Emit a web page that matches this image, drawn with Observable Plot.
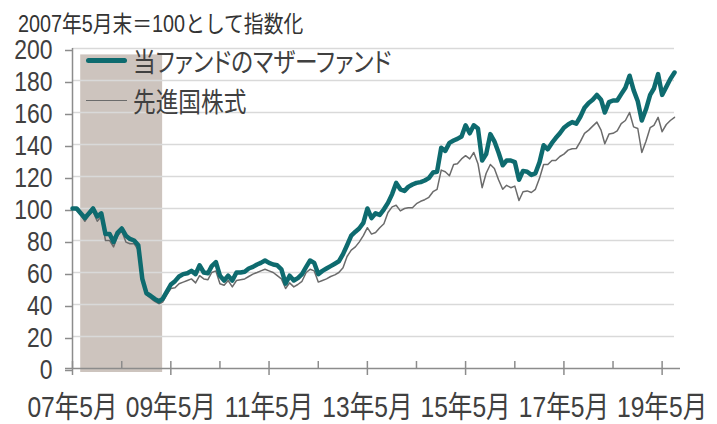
<!DOCTYPE html>
<html><head><meta charset="utf-8">
<script src="https://cdn.jsdelivr.net/npm/d3@7"></script>
<script src="https://cdn.jsdelivr.net/npm/@observablehq/plot@0.6"></script>
<style>
body{margin:0;background:#fff;}
#wrap{position:relative;width:717px;height:424px;overflow:hidden;background:#fff;
  font-family:"Liberation Sans","Noto Sans CJK JP",sans-serif;color:#404040;}
#title{height:36px;position:relative;}
#title span{position:absolute;left:18px;top:13px;font-size:23px;line-height:23px;white-space:nowrap;
  transform:scaleX(0.86);transform-origin:0 0;color:#333;}
.legline{position:absolute;left:86px;width:41px;}
.legtext{position:absolute;left:133px;font-size:27px;line-height:27px;white-space:nowrap;
  transform:scaleX(0.84);transform-origin:0 0;color:#404040;font-feature-settings:"palt";}
</style></head>
<body>
<div id="wrap">
  <div id="title"><span>2007年5月末＝100として指数化</span></div>
  <div id="chart"></div>
  <div class="legline" style="top:57.5px;height:5px;border-radius:2.5px;background:#0e6b6f"></div>
  <div class="legtext" id="leg1" style="top:50px"></div>
  <div class="legline" style="top:99.5px;height:1.5px;background:#6b6b6b"></div>
  <div class="legtext" id="leg2" style="top:90px"></div>
</div>
<script>
// ---- data ----
const seriesNames = ["当ファンドのマザーファンド", "先進国株式"];
const startMonth = "2007-05-01";
const endMonth = "2019-08-01";
// monthly index values, 2007-05 .. 2019-08
const fund = [
100,100,97,94,97,100,95,97,84,84,79,85,
87.5,83,81,80,77,56,47,45.5,43.5,42,43.5,48,
52.5,54.6,57.5,59,59.5,61,59,64.5,60,59.5,64,66.5,
58,55,58,55,60,60,60.5,62.5,63.5,65,66,67.5,
66,65,64.5,62,53,58,55,56.5,59,63.5,67.5,66,
59,61,62.5,64,65.5,67,71.5,77,83,85.5,87.5,91,
100,94,97,96,99.5,103.5,109,116,112,111,113.5,115,
116,116.5,117.5,119,122.5,123,138,136,141,142.5,143.5,145,
152,147,152,150,130,134,146.5,142,135,127,130,130,
129,118,123.5,123,121,122,129,139.5,137,141,144,147,
150.5,152.5,154,153,157.5,163,166,168,171,168,160,166.5,
167.5,167.5,171.5,175.5,183,174,167,155,162,171,175,184,
171,176,181,185
];
const world = [
100,99,96,92,96,98,92,95,80,80,76,83,
86,79,78,78,74,54,46,44,42,40.5,41.5,46,
50,50.5,53,54,55,56,53.5,58,56,55.5,60,61,
53,52,55,51,55,55.5,56,57.5,59,60,61,62,
61,60,58,56,50,53.5,51,52.5,54.5,60,62,61,
54,55,56,57.5,58.5,60,63,70,74,76,79,83,
88,84,85,88,90.5,97.5,101,102,98.5,100,100.5,100.5,
103,104.5,105.5,107,110.5,112,124,123,120.5,127.5,128,131,
133,131,135,128,113,122,127.5,125,118,112,114.5,113,
114,105,110.5,111,110,112,119,127.5,127.5,130,130,132.5,
134,136.5,137.3,137.5,142,147,149,151.5,154,149,140.5,146.5,
147,148.5,153,155,160,151,150,135,142,150.5,152,157,
148,152.5,155,157
];
const shade = [{start: "2007-07-01", end: "2009-03-01", top: 196}];
const yTicks = [0, 20, 40, 60, 80, 100, 120, 140, 160, 180, 200];
const xTickLabels = ["07年5月", "09年5月", "11年5月", "13年5月", "15年5月", "17年5月", "19年5月"];
const xTickYears = [2007, 2009, 2011, 2013, 2015, 2017, 2019];
const minorTickYears = [2008, 2010, 2012, 2014, 2016, 2018];

// ---- build ----
const months = d3.utcMonth.range(new Date(startMonth), d3.utcMonth.offset(new Date(endMonth), 1));
const rows = months.map((d, i) => ({date: d, fund: fund[i], world: world[i]}));
const shadeRows = shade.map(s => ({start: new Date(s.start), end: new Date(s.end), top: s.top}));
const majorTicks = xTickYears.map(y => new Date(Date.UTC(y, 4, 1)));
const minorTicks = minorTickYears.map(y => new Date(Date.UTC(y, 4, 1)));
const labelOf = d => xTickLabels[majorTicks.findIndex(t => +t === +d)];

const teal = "#0e6b6f", axisGray = "#8c8c8c";
const chart = Plot.plot({
  width: 717, height: 388,
  marginTop: 12, marginBottom: 56, marginLeft: 72, marginRight: 43,
  style: {fontFamily: '"Liberation Sans","Noto Sans CJK JP",sans-serif', color: "#404040", background: "transparent", overflow: "visible"},
  x: {type: "utc", domain: [months[0], months[months.length - 1]], axis: null},
  y: {domain: [0, 200], axis: null},
  marks: [
    Plot.rect(shadeRows, {x1: "start", x2: "end", y1: 0, y2: "top", fill: "#cdc4be", insetBottom: -4}),
    Plot.ruleY(yTicks.filter(v => v > 0), {stroke: "#d9d9d9", strokeWidth: 1.6}),
    Plot.ruleX([months[0]], {stroke: axisGray, strokeWidth: 1.5}),
    Plot.ruleY([0], {stroke: axisGray, strokeWidth: 1.5, insetLeft: -7, insetRight: -6}),
    Plot.ruleX(minorTicks, {x: d => d, y1: 0, y2: 0, insetTop: -7, stroke: axisGray, strokeWidth: 1.5}),
    Plot.ruleX(majorTicks, {x: d => d, y1: 0, y2: 0, insetTop: -7, insetBottom: -7, stroke: axisGray, strokeWidth: 1.5}),
    Plot.axisY({ticks: yTicks, tickSize: 7, tickPadding: 13, fontSize: 28, stroke: axisGray, strokeWidth: 1.5, fill: "#404040", label: null, dy: 2}),
    Plot.axisX({ticks: majorTicks, tickSize: 0, tickPadding: 27, fontSize: 30, fill: "#404040", label: null, tickFormat: labelOf}),
    Plot.line(rows, {x: "date", y: "world", stroke: "#6b6b6b", strokeWidth: 1.5, strokeLinejoin: "round"}),
    Plot.line(rows, {x: "date", y: "fund", stroke: teal, strokeWidth: 4.5, strokeLinejoin: "round", strokeLinecap: "round"})
  ]
});
// condense the axis lettering like the narrow original font
chart.querySelectorAll("text").forEach(t => {
  const tr = t.getAttribute("transform") || "";
  const x = parseFloat(t.getAttribute("x")) || 0;
  t.setAttribute("transform", `${tr} translate(${x},0) scale(0.82,1) translate(${-x},0)`);
});
document.getElementById("chart").appendChild(chart);
document.getElementById("leg1").textContent = seriesNames[0];
document.getElementById("leg2").textContent = seriesNames[1];
</script>
</body></html>
